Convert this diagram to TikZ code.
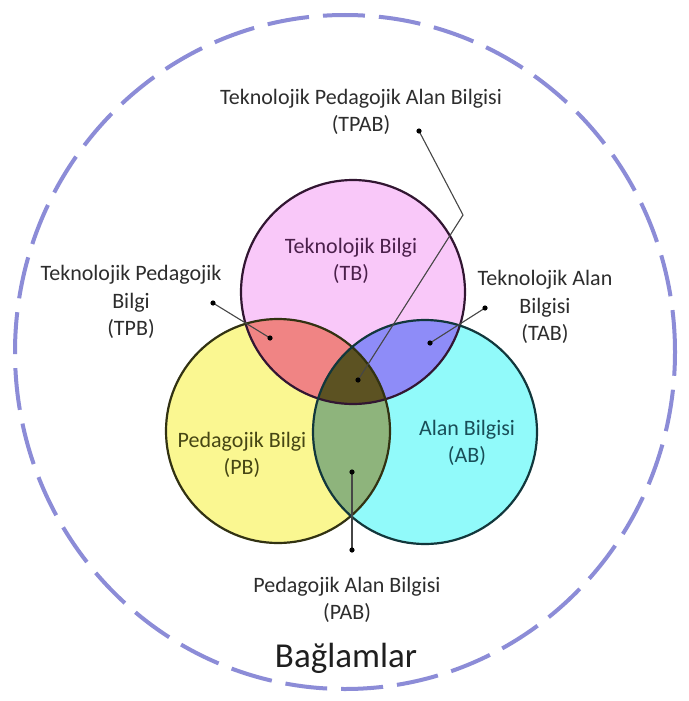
\documentclass[tikz,border=0pt]{standalone}
\usepackage{fontspec}
\setmainfont{Carlito}
\definecolor{cTB}{RGB}{249,200,249}
\definecolor{cPB}{RGB}{250,247,145}
\definecolor{cAB}{RGB}{145,250,250}
\definecolor{cTPB}{RGB}{240,132,132}
\definecolor{cTAB}{RGB}{142,140,248}
\definecolor{cPAB}{RGB}{142,180,124}
\definecolor{cTPAB}{RGB}{92,82,34}
\definecolor{oTB}{RGB}{50,22,50}
\definecolor{oPB}{RGB}{50,50,18}
\definecolor{oAB}{RGB}{18,55,60}
\definecolor{tTB}{RGB}{75,32,75}
\definecolor{tPB}{RGB}{70,70,20}
\definecolor{tAB}{RGB}{25,78,88}
\definecolor{tOut}{RGB}{45,45,45}
\definecolor{ctx}{RGB}{140,140,215}
\definecolor{lineC}{RGB}{70,70,70}
\begin{document}
\begin{tikzpicture}[x=1pt,y=-1pt,
  lbl/.style={align=center,inner sep=0pt,font=\fontsize{22}{27.5}\selectfont},
  ring/.style={line width=2.2pt},
  conn/.style={draw=lineC,line width=1.1pt},
  dotmark/.style={fill=black},
  ctxline/.style={draw=ctx,line width=4pt,dash pattern=on 42pt off 14pt}]
\useasboundingbox (0,0) rectangle (688,701);
\fill[white] (0,0) rectangle (688,701);

% context ring
\coordinate (ctr) at (345,352);
\draw[ctxline] (ctr) ellipse [x radius=330pt, y radius=337pt];

% circle centres
\coordinate (tb) at (353,292);
\coordinate (pb) at (278,431);
\coordinate (ab) at (425,432);

% fills
\fill[cTB] (tb) circle[radius=112pt];
\fill[cPB] (pb) circle[radius=112pt];
\fill[cAB] (ab) circle[radius=112pt];
\begin{scope}
  \clip (tb) circle[radius=112pt];
  \fill[cTPB] (pb) circle[radius=112pt];
  \fill[cTAB] (ab) circle[radius=112pt];
  \clip (pb) circle[radius=112pt];
  \fill[cTPAB] (ab) circle[radius=112pt];
\end{scope}
\begin{scope}
  \clip (pb) circle[radius=112pt];
  \clip (ab) circle[radius=112pt];
  \fill[cPAB] (pb) circle[radius=112pt];
  \clip (tb) circle[radius=112pt];
  \fill[cTPAB] (tb) circle[radius=112pt];
\end{scope}

% outlines
\draw[ring,draw=oTB] (tb) circle[radius=112pt];
\draw[ring,draw=oPB] (pb) circle[radius=112pt];
\draw[ring,draw=oAB] (ab) circle[radius=112pt];

% inner labels
\node[lbl,text=tTB] (TBl) at (351,261) {Teknolojik Bilgi\\(TB)};
\node[lbl,text=tPB] (PBl) at (242,455) {Pedagojik Bilgi\\(PB)};
\node[lbl,text=tAB] (ABl) at (467,443) {Alan Bilgisi\\(AB)};

% outer labels
\node[lbl,text=tOut] (TPABl) at (361,112) {Teknolojik Pedagojik Alan Bilgisi\\(TPAB)};
\node[lbl,text=tOut] (TPBl) at (131,302) {Teknolojik Pedagojik\\Bilgi\\(TPB)};
\node[lbl,text=tOut] (TABl) at (545,307) {Teknolojik Alan\\Bilgisi\\(TAB)};
\node[lbl,text=tOut] (PABl) at (347,600) {Pedagojik Alan Bilgisi\\(PAB)};
\node[inner sep=0pt,text=black!88,font=\fontsize{35}{40}\selectfont] (ctxl) at (346,658) {Bağlamlar};

% connectors
\coordinate (tpabA) at (419,131);
\coordinate (tpabK) at (463,215);
\coordinate (tpabB) at (358,380);
\coordinate (tpbA) at (213,303);
\coordinate (tpbB) at (270,338);
\coordinate (tabA) at (485,308);
\coordinate (tabB) at (430,343);
\coordinate (pabA) at (352,550);
\coordinate (pabB) at (352,472);

\draw[conn] (tpabA) -- (tpabK) -- (tpabB);
\draw[conn] (tpbA) -- (tpbB);
\draw[conn] (tabA) -- (tabB);
\draw[conn] (pabA) -- (pabB);
\foreach \p in {tpabA,tpabB,tpbA,tpbB,tabA,tabB,pabA,pabB}
  \fill[dotmark] (\p) circle[radius=2.6pt];
\end{tikzpicture}
\end{document}
